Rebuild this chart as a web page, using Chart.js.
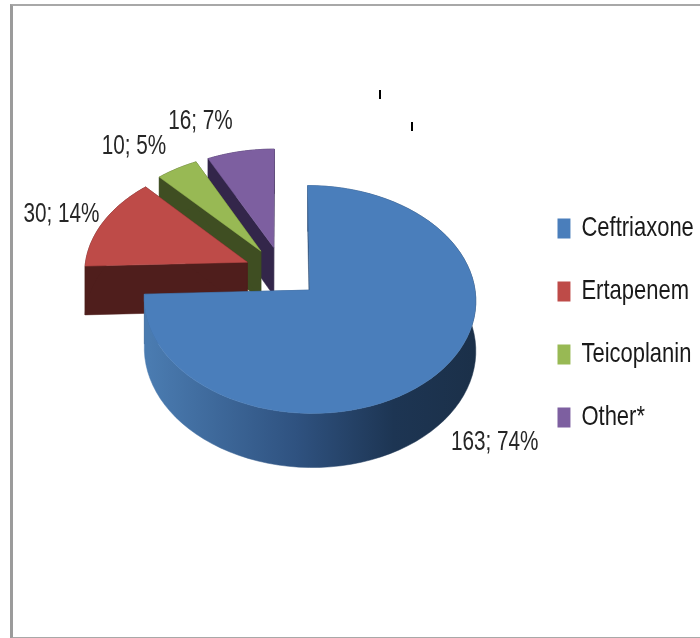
<!DOCTYPE html>
<html>
<head>
<meta charset="utf-8">
<title>Antibiotics</title>
<script src="https://cdn.jsdelivr.net/npm/chart.js@4"></script>
<style>
  html, body { margin: 0; padding: 0; background: #fff; }
  #wrap { position: relative; width: 700px; height: 638px; overflow: hidden; }
  #frame { position: absolute; left: 10px; top: 4px; width: 700px; height: 631px;
           border-left: 3px solid #9b9b9b; border-top: 2px solid #a8a8a8; border-bottom: 2px solid #a8a8a8; }
  .tick { position: absolute; width: 2px; height: 9px; background: #000; }
</style>
</head>
<body>
<div id="wrap">
  <div id="frame"></div>
  <div class="tick" style="left:379px;top:90px"></div>
  <div class="tick" style="left:411px;top:122px"></div>
  <canvas id="chart" width="700" height="638" style="position:absolute;left:0;top:0"></canvas>
</div>
<script>
const categories = ['Ceftriaxone', 'Ertapenem', 'Teicoplanin', 'Other*'];
const counts = [163, 30, 10, 16];
const percents = [74, 14, 5, 7];

const topColors = ['#4a7ebb', '#be4b48', '#98b954', '#7d5fa0'];
const wallColors = ['#2c4d75', '#4f1e1c', '#3f4e22', '#33264a'];

const FONT = '"Liberation Sans", sans-serif';

// tilt of the pie and how much nearer parts grow
const tilt = 0.676;
const persp = 0.0005;
const depth = 49;

// back slices first so the big one covers them
const drawOrder = [3, 2, 1, 0];

// label box centre relative to the slice's outer midpoint
const labelNudge = [[57, 69], [-42, -7], [-43, -22], [-40, -30]];

// no narrow face installed, so text gets squeezed sideways
const labelSqueeze = 0.74;
const legendSqueeze = 0.785;

function project(arc, wx, wy) {
  const s = 1 / (1 - persp * wy);
  return { x: arc.x + wx * s, y: arc.y + tilt * wy * s, s: s };
}

function slicePoint(arc, off, angle, r) {
  const mid = (arc.startAngle + arc.endAngle) / 2;
  return project(arc,
    off * Math.cos(mid) + r * Math.cos(angle),
    off * Math.sin(mid) + r * Math.sin(angle));
}

function rimPoints(arc, off) {
  const pts = [];
  for (let i = 0; i <= 80; i++) {
    const a = arc.startAngle + (arc.endAngle - arc.startAngle) * i / 80;
    pts.push(slicePoint(arc, off, a, arc.outerRadius));
  }
  return pts;
}

function fillPoly(ctx, pts, fill) {
  ctx.beginPath();
  pts.forEach((p, i) => i ? ctx.lineTo(p.x, p.y) : ctx.moveTo(p.x, p.y));
  ctx.closePath();
  ctx.fillStyle = fill;
  ctx.fill();
  ctx.strokeStyle = fill;
  ctx.lineWidth = 0.5;
  ctx.stroke();
}

function down(p) {
  return { x: p.x, y: p.y + depth * p.s };
}

const pie3d = {
  id: 'pie3d',
  afterLayout(chart) {
    // squeeze the legend and move it down next to the pie
    const legend = chart.legend;
    if (legend.squeezed) return;
    legend.squeezed = true;
    const draw = legend.draw;
    legend.draw = function () {
      const ctx = chart.ctx;
      const x0 = legend.left + legend.options.labels.padding;
      ctx.save();
      ctx.translate(557.5 - legendSqueeze * x0, 51);
      ctx.scale(legendSqueeze, 1);
      draw.call(legend);
      ctx.restore();
    };
  },
  beforeDatasetsDraw(chart) {
    const ctx = chart.ctx;
    const arcs = chart.getDatasetMeta(0).data;
    const off = chart.data.datasets[0].offset;

    drawOrder.forEach(i => {
      const arc = arcs[i];
      const apex = slicePoint(arc, off, 0, 0);
      const rim = rimPoints(arc, off);
      const first = rim[0];
      const last = rim[rim.length - 1];

      let wall = wallColors[i];
      if (i === 0) {
        // the front band of the big slice fades to dark on the right
        const g = ctx.createLinearGradient(150, 0, 475, 0);
        g.addColorStop(0, '#4a7bb0');
        g.addColorStop(0.45, '#2f5280');
        g.addColorStop(0.75, '#1d3553');
        g.addColorStop(1, '#1b3049');
        wall = g;
      }

      fillPoly(ctx, [apex, first, down(first), down(apex)], wallColors[i]);
      fillPoly(ctx, [apex, last, down(last), down(apex)], wallColors[i]);
      fillPoly(ctx, rim.concat(rim.map(down).reverse()), wall);
      fillPoly(ctx, [apex].concat(rim), topColors[i]);
    });

    // value; percent labels
    ctx.font = '28px ' + FONT;
    ctx.fillStyle = '#262626';
    ctx.textAlign = 'center';
    ctx.textBaseline = 'middle';
    arcs.forEach((arc, i) => {
      const mid = (arc.startAngle + arc.endAngle) / 2;
      const p = slicePoint(arc, off, mid, arc.outerRadius);
      ctx.save();
      ctx.translate(p.x + labelNudge[i][0], p.y + labelNudge[i][1]);
      ctx.scale(labelSqueeze, 1);
      ctx.fillText(counts[i] + '; ' + percents[i] + '%', 0, 0);
      ctx.restore();
    });
    return false;
  }
};

new Chart(document.getElementById('chart'), {
  type: 'pie',
  data: {
    labels: categories,
    datasets: [{
      data: counts,
      backgroundColor: topColors,
      borderWidth: 0,
      offset: 38,
      radius: 163
    }]
  },
  options: {
    responsive: false,
    animation: false,
    layout: { padding: { left: 83, top: 0, right: 0, bottom: 94 } },
    plugins: {
      tooltip: { enabled: false },
      legend: {
        position: 'right',
        labels: {
          boxWidth: 16.5,
          boxHeight: 20,
          padding: 35,
          color: '#1a1a1a',
          font: { family: FONT, size: 28 }
        }
      }
    }
  },
  plugins: [pie3d]
});
</script>
</body>
</html>
